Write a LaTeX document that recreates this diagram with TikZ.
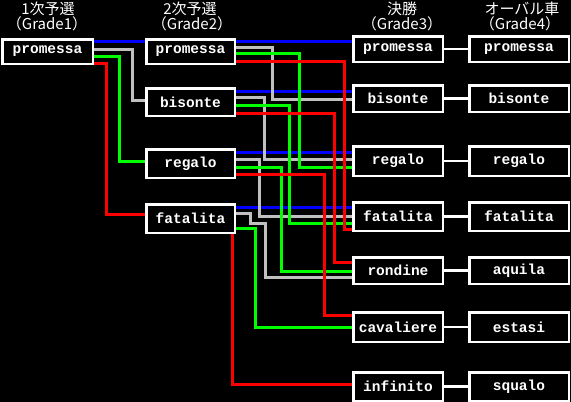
\documentclass[tikz,border=0pt]{standalone}
\usepackage{fontspec}
\newfontfamily\jpfont{Noto Sans CJK JP}
\newfontfamily\boxfont{Liberation Mono}
\definecolor{wblue}{RGB}{0,0,255}
\definecolor{wgray}{RGB}{192,192,192}
\definecolor{wgreen}{RGB}{0,255,0}
\definecolor{wred}{RGB}{255,0,0}
\tikzset{
  box/.style={draw=white, fill=black, line width=2.5pt, text=white, inner sep=0pt,
    font=\boxfont\bfseries\fontsize{14.5}{15}\selectfont},
  gone/.style={box, minimum width=90.5pt},
  gtwo/.style={box, minimum width=88.5pt},
  gthree/.style={box, minimum width=89.5pt},
  gfour/.style={box, minimum width=99.5pt},
  hdr/.style={text=white, inner sep=0pt, font=\jpfont\fontsize{15}{16}\selectfont},
  wire/.style={line width=3pt},
  link/.style={draw=white, line width=2.5pt},
}
\begin{document}
\begin{tikzpicture}[x=1pt,y=-1pt]
\fill[black] (0,0) rectangle (571,402);
\useasboundingbox (0,0) rectangle (571,402);

% headers
\node[hdr] (h1a) at (48,9) {1次予選};
\node[hdr] (h1b) at (47,24) {（Grade1）};
\node[hdr] (h2a) at (190,9) {2次予選};
\node[hdr] (h2b) at (192,24) {（Grade2）};
\node[hdr] (h3a) at (402,9) {決勝};
\node[hdr] (h3b) at (402,24) {（Grade3）};
\node[hdr] (h4a) at (522,9) {オーバル車};
\node[hdr] (h4b) at (520,24) {（Grade4）};

% boxes
\node[gone, minimum height=24.5pt] (a1) at (47.5,51.5) {promessa};
\node[gtwo, minimum height=24.5pt] (p2) at (190.5,51.5) {promessa};
\node[gtwo, minimum height=27.5pt] (b2) at (190.5,102) {bisonte};
\node[gtwo, minimum height=28.5pt] (r2) at (190.5,163.5) {regalo};
\node[gtwo, minimum height=28.5pt] (f2) at (190.5,218.5) {fatalita};
\node[gthree, minimum height=25.5pt] (p3) at (398,49) {promessa};
\node[gthree, minimum height=26.5pt] (b3) at (398,98.5) {bisonte};
\node[gthree, minimum height=29.5pt] (r3) at (398,161) {regalo};
\node[gthree, minimum height=28.5pt] (f3) at (398,216.5) {fatalita};
\node[gthree, minimum height=26.5pt] (ro3) at (398,270.5) {rondine};
\node[gthree, minimum height=29.5pt] (c3) at (398,327) {cavaliere};
\node[gthree, minimum height=28.5pt] (i3) at (398,386.5) {infinito};
\node[gfour, minimum height=25.5pt] (p4) at (519,49) {promessa};
\node[gfour, minimum height=26.5pt] (b4) at (519,98.5) {bisonte};
\node[gfour, minimum height=29.5pt] (r4) at (519,161) {regalo};
\node[gfour, minimum height=28.5pt] (f4) at (519,216.5) {fatalita};
\node[gfour, minimum height=26.5pt] (ro4) at (519,270.5) {aquila};
\node[gfour, minimum height=29.5pt] (c4) at (519,327) {estasi};
\node[gfour, minimum height=28.5pt] (i4) at (519,386.5) {squalo};

% Grade1 -> Grade2
\draw[wire, wblue] (a1.east |- 0,41) -- (p2.west |- 0,41);
\draw[wire, wgray] (a1.east |- 0,49) -- (132,49) |- (b2.west |- 0,100);
\draw[wire, wgreen] (a1.east |- 0,56) -- (119,56) |- (r2.west |- 0,161);
\draw[wire, wred] (a1.east |- 0,63) -- (106,63) |- (f2.west |- 0,214);

% Grade2 -> Grade3
\draw[wire, wblue] (p2.east |- 0,41) -- (p3.west |- 0,41);
\draw[wire, wblue] (b2.east |- 0,91) -- (b3.west |- 0,91);
\draw[wire, wblue] (r2.east |- 0,152) -- (r3.west |- 0,152);
\draw[wire, wblue] (f2.east |- 0,207) -- (f3.west |- 0,207);

\draw[wire, wgray] (p2.east |- 0,47) -- (272,47) |- (b3.west |- 0,99);
\draw[wire, wgray] (b2.east |- 0,97) -- (264,97) |- (r3.west |- 0,159);
\draw[wire, wgray] (r2.east |- 0,159) -- (259,159) |- (f3.west |- 0,216);
\draw[wire, wgray] (f2.east |- 0,213) -- (250,213) -- (250,223) -- (265,223) |- (ro3.west |- 0,277);

\draw[wire, wgreen] (p2.east |- 0,53) -- (299,53) |- (r3.west |- 0,167);
\draw[wire, wgreen] (b2.east |- 0,105) -- (289,105) |- (f3.west |- 0,223);
\draw[wire, wgreen] (r2.east |- 0,167) -- (281,167) |- (ro3.west |- 0,271);
\draw[wire, wgreen] (f2.east |- 0,228) -- (255,228) |- (c3.west |- 0,327);

\draw[wire, wred] (p2.east |- 0,61) -- (344,61) |- (f3.west |- 0,229);
\draw[wire, wred] (b2.east |- 0,113) -- (334,113) |- (ro3.west |- 0,262);
\draw[wire, wred] (r2.east |- 0,174) -- (324,174) |- (c3.west |- 0,315);
\draw[wire, wred] (f2.south -| 232,0) |- (i3.west |- 0,384);

% Grade3 -> Grade4
\draw[link] (p3.east) -- (p4.west);
\draw[link] (b3.east) -- (b4.west);
\draw[link] (r3.east) -- (r4.west);
\draw[link] (f3.east) -- (f4.west);
\draw[link] (ro3.east) -- (ro4.west);
\draw[link] (c3.east) -- (c4.west);
\draw[link] (i3.east) -- (i4.west);

% redraw box borders on top of wire ends
\foreach \n in {a1,p2,b2,r2,f2,p3,b3,r3,f3,ro3,c3,i3,p4,b4,r4,f4,ro4,c4,i4}{
  \draw[white, line width=2.5pt] ([xshift=1.25pt,yshift=-1.25pt]\n.north west) rectangle ([xshift=-1.25pt,yshift=1.25pt]\n.south east);
}
\end{tikzpicture}
\end{document}
